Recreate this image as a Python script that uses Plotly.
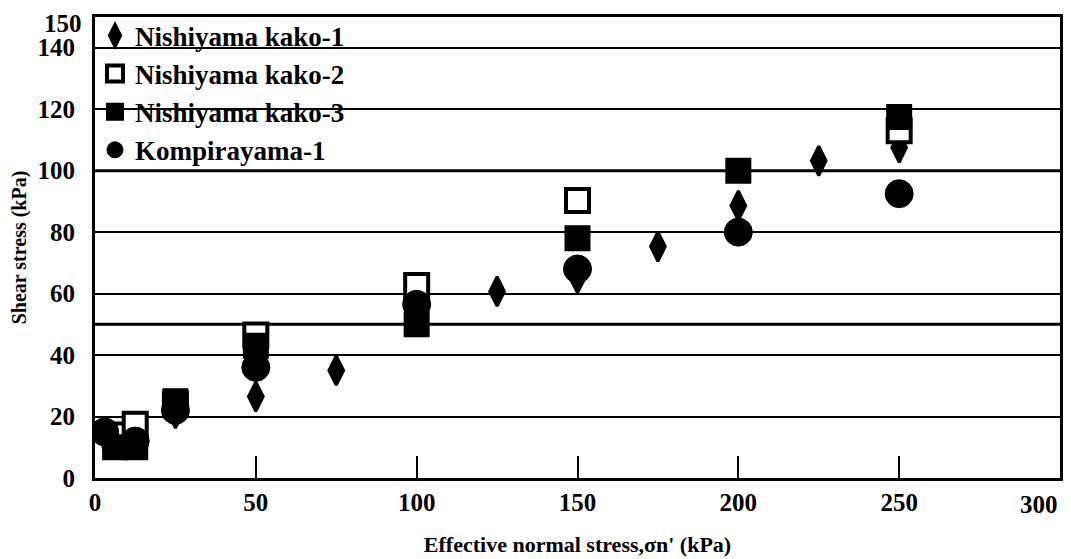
import plotly.graph_objects as go

# --- data ---
kako1_x = [25, 50, 75, 100, 125, 150, 175, 200, 225, 250]
kako1_y = [21, 26.5, 35, 55, 60.7, 65, 75.3, 88.6, 103.2, 107.5]

kako2_x = [6.25, 12.5, 25, 50, 100, 150, 250]
kako2_y = [14, 17.5, 24, 46.5, 62.6, 90.3, 113]

kako3_x = [6.25, 12.5, 25, 50, 100, 150, 200, 250]
kako3_y = [10, 10, 25, 43, 50, 78, 100, 117.5]

komp_x = [3, 12.5, 25, 50, 100, 150, 200, 250]
komp_y = [15, 12, 22, 36, 56.5, 68, 80, 92.5]

x_ticks = [0, 50, 100, 150, 200, 250, 300]
x_ticktext = ["0", "50", "100", "150", "200", "250", ""]
y_ticks = [0, 20, 40, 60, 80, 100, 120, 140, 150]
y_ticktext = ["0", "20", "40", "60", "80", "100", "120", "140", ""]
heavy_lines = [50, 100]

FONT = "Liberation Serif"
TICKFONT = dict(family=FONT, size=25, color="black", weight="bold")

fig = go.Figure()

fig.add_trace(go.Scatter(
    x=kako1_x, y=kako1_y, mode="markers", name="Nishiyama kako-1",
    legendgroup="a",
    marker=dict(symbol="diamond-tall", size=21, color="black",
                line=dict(color="black", width=3))))
fig.add_trace(go.Scatter(
    x=kako2_x, y=kako2_y, mode="markers", name="Nishiyama kako-2",
    legendgroup="b",
    marker=dict(symbol="square", size=23, color="white",
                line=dict(color="black", width=4))))
fig.add_trace(go.Scatter(
    x=kako3_x, y=kako3_y, mode="markers", name="Nishiyama kako-3",
    legendgroup="c",
    marker=dict(symbol="square", size=24, color="black",
                line=dict(color="black", width=2))))
fig.add_trace(go.Scatter(
    x=komp_x, y=komp_y, mode="markers", name="Kompirayama-1",
    legendgroup="d",
    marker=dict(symbol="circle", size=28, color="black",
                line=dict(color="black", width=1))))

for v in heavy_lines:
    fig.add_shape(type="line", xref="paper", x0=0, x1=1, yref="y", y0=v, y1=v,
                  line=dict(color="black", width=3), layer="below")

# last x tick label, kept inside the page like in the reference
fig.add_annotation(x=x_ticks[-1], y=0, xref="x", yref="y", text="300",
                   showarrow=False, xanchor="right", yanchor="top", yshift=-11,
                   font=TICKFONT)
# top y tick label, kept inside the page like in the reference
fig.add_annotation(x=0, y=y_ticks[-1], xref="paper", yref="y", text="150",
                   showarrow=False, xanchor="right", yanchor="top",
                   xshift=-12, yshift=8, borderpad=0, font=TICKFONT)

# the page body adds an 8 px offset, so margins are compensated
fig.update_layout(
    width=1071, height=559,
    margin=dict(l=87, r=19, t=9, b=89, autoexpand=False),
    paper_bgcolor="white", plot_bgcolor="white",
    font=dict(family=FONT, color="black", size=20, weight="bold"),
    showlegend=True,
    legend=dict(x=0.0, y=1.012, xanchor="left", yanchor="top",
                bgcolor="rgba(255,255,255,0)", borderwidth=0,
                font=dict(family=FONT, size=27, color="black", weight="bold"),
                tracegroupgap=0, itemsizing="trace"),
    xaxis=dict(range=[0, 300], tickvals=x_ticks, ticktext=x_ticktext,
               ticks="inside", ticklen=22, automargin=False,
               tickwidth=2, tickcolor="black", showgrid=False, zeroline=False,
               showline=True, linecolor="black", linewidth=3, mirror=True,
               tickfont=TICKFONT,
               title=dict(text="Effective normal stress,σn' (kPa)",
                          font=dict(family=FONT, size=22, color="black", weight="bold"),
                          standoff=22)),
    yaxis=dict(range=[0, 150], tickvals=y_ticks, ticktext=y_ticktext,
               ticks="", showgrid=True, automargin=False,
               gridcolor="black", gridwidth=1.5, zeroline=False,
               showline=True, linecolor="black", linewidth=3, mirror=True,
               ticklabelstandoff=12,
               tickfont=TICKFONT,
               title=dict(text="Shear stress (kPa)",
                          font=dict(family=FONT, size=20, color="black", weight="bold"),
                          standoff=8)),
)

fig.write_html("out.html")
